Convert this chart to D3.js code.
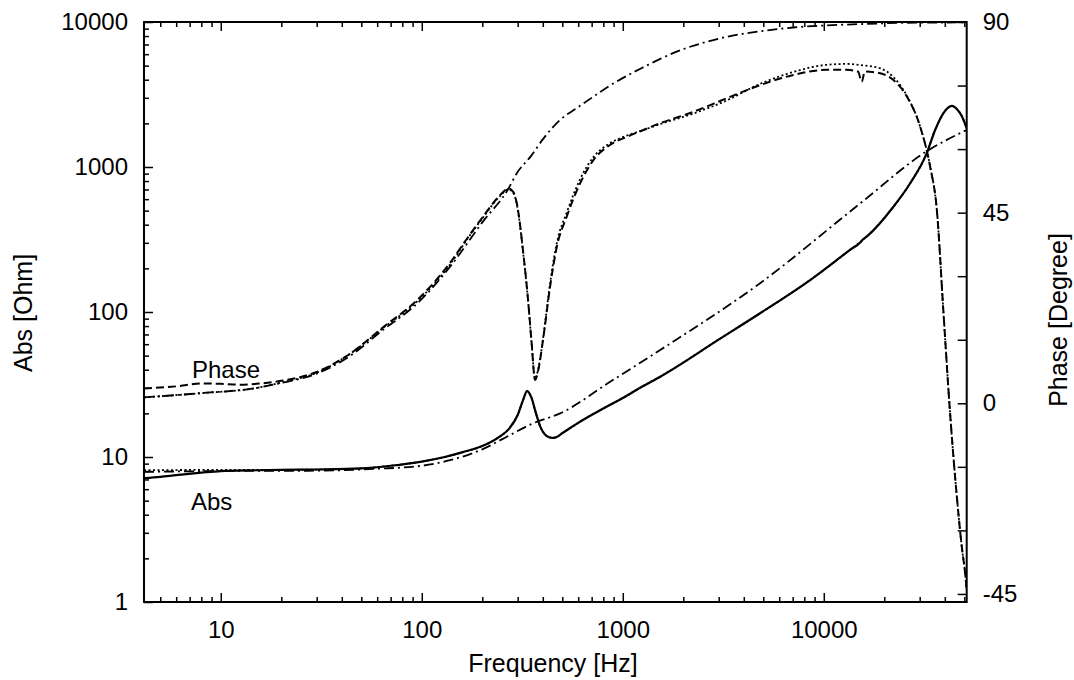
<!DOCTYPE html>
<html>
  <head>
    <meta charset="utf-8">
    <script src="https://d3js.org/d3.v7.min.js"></script>
    <style>
      body { margin: 0; background: #fff; }
      text { font-family: "Liberation Sans", Arial, Helvetica, sans-serif; }
    </style>
  </head>
  <body>
    <svg id="chart" width="1074" height="680"></svg>
    <script>
      // [frequency Hz, |Z| Ohm]
      const absMeasured = [[4.15,7.15],[5,7.3],[6,7.5],[8,7.8],[10,8.0],[15,8.1],[20,8.15],[30,8.2],[50,8.35],[70,8.7],[100,9.3],[130,10.0],[160,10.8],[200,11.9],[240,13.6],[270,15.5],[300,19.5],[320,25],[334,28.5],[350,26],[370,20],[390,16],[410,14.3],[430,13.7],[450,13.55],[470,13.75],[500,14.6],[550,15.9],[600,17.2],[800,21.6],[1000,25.5],[1250,30.6],[1535,35.8],[3050,65.5],[4820,98],[8550,166],[13500,268],[15300,305],[15560,314],[16500,335],[22200,532],[26900,773],[32500,1242],[35800,1800],[39400,2356],[43400,2636],[46000,2500],[48700,2233],[51400,1850]];
      const absModel = [[4.15,8.1],[10,8.15],[20,8.15],[30,8.2],[50,8.35],[70,8.7],[100,9.3],[130,10.0],[160,10.8],[200,11.9],[240,13.6],[270,15.5],[300,19.5],[320,25],[334,28.5],[350,26],[370,20],[390,16],[410,14.3],[430,13.7],[450,13.55],[470,13.75],[500,14.6],[550,15.9],[600,17.2],[800,21.6],[1000,25.5],[1250,30.6],[1535,35.8],[3050,65.5],[4820,98],[8550,166],[13500,268],[16500,335],[22200,532],[26900,773],[32500,1242],[35800,1800],[39400,2356],[43400,2636],[46000,2500],[48700,2233],[51400,1850]];
      const absSimple = [[4.15,7.9],[10,8.0],[30,8.05],[60,8.3],[100,8.7],[138,9.5],[200,11.3],[270,14],[359,17.1],[488,20],[865,33],[1535,54.7],[4820,158],[15200,562],[32500,1283],[51400,1800]];

      // [frequency Hz, phase degree]
      const phaseMeasured = [[4.15,3.5],[6,4.0],[8.2,4.7],[10,4.6],[12.5,4.4],[15,4.6],[20,5.3],[30,7.4],[44,11.7],[64,17.9],[95,24.4],[138,33.1],[168,38.9],[202,44.1],[245,49.1],[270,50.7],[285,49.9],[297,47.2],[320,35.4],[339,23.6],[352,14.2],[366,5.5],[380,7.9],[403,15.7],[435,27.6],[470,37.0],[526,44.05],[613,51.9],[714,57.4],[865,61.0],[1047,62.9],[1266,64.5],[1533,66.1],[2245,68.8],[3291,72.0],[4822,75.1],[7060,77.5],[10350,78.7],[13010,78.7],[14800,78.3],[15450,75.9],[16000,78.3],[19050,77.9],[22200,76.3],[25900,72.4],[30150,65.3],[33800,55.9],[36500,45.7],[39400,21.3],[42500,-2.4],[45900,-22.0],[48600,-33.9],[50500,-40.2],[51400,-44.1]];
      const phaseModel = [[4.15,1.4],[8,2.4],[15,3.6],[20,4.9],[30,7.2],[44,11.7],[64,17.7],[95,24.1],[138,32.7],[168,38.7],[202,43.9],[245,48.9],[270,50.5],[285,49.7],[297,47.0],[320,35.2],[339,23.5],[352,14.1],[366,5.8],[380,8.2],[403,16.0],[435,28.4],[470,37.9],[526,45.0],[613,52.9],[714,58.1],[865,61.4],[1047,63.2],[1266,64.5],[1533,65.9],[2245,68.4],[3291,71.5],[4822,75.4],[7060,78.2],[10350,79.9],[13010,80.1],[16000,79.7],[19050,79.1],[22200,77.0],[25900,72.6],[30150,65.3],[33800,55.9],[36500,45.7],[39400,21.3],[42500,-2.4],[45900,-22.0],[48600,-33.9],[50500,-40.2],[51400,-44.1]];
      const phaseSimple = [[4.15,1.4],[8,2.4],[15,3.6],[20,4.8],[30,7.0],[44,11.2],[64,17.3],[95,23.6],[138,32.2],[200,42.7],[270,50.7],[297,54.3],[350,58.4],[400,62.3],[488,66.9],[600,69.9],[715,72.4],[850,74.8],[1047,77.3],[1300,79.6],[1535,81.3],[2000,83.6],[2600,85.3],[3290,86.5],[4820,87.8],[7060,88.7],[10350,89.2],[15000,89.5],[25000,89.8],[51400,89.9]];

      const xMajor = [10, 100, 1000, 10000];
      const absMajor = [1, 10, 100, 1000, 10000];
      const phaseMajor = [-45, 0, 45, 90];
      const phaseMinor = [-30, -15, 15, 30, 60, 75];

      const svg = d3.select("#chart");
      const pLeft = 144, pRight = 966.7, pTop = 22, pBottom = 602;

      const x = d3.scaleLog().domain([4.15, 51400]).range([pLeft, pRight]);
      const yAbs = d3.scaleLog().domain([1, 10000]).range([pBottom, pTop]);
      const yPh = d3.scaleLinear().domain([-46.9, 90]).range([pBottom, pTop]);

      // minor ticks of the log axes
      const xMinor = [];
      [1, 10, 100, 1000, 10000].forEach(d => {
        for (let k = 2; k < 10; k++) {
          const v = d * k;
          if (v >= 4.15 && v <= 51400) xMinor.push(v);
        }
      });
      const absMinor = [];
      [1, 10, 100, 1000].forEach(d => {
        for (let k = 2; k < 10; k++) absMinor.push(d * k);
      });

      const fmt = d => String(d);

      function style(g) {
        g.select(".domain").remove();
        g.selectAll("line").attr("stroke", "#000").attr("stroke-width", 1.5);
        g.selectAll("text").attr("font-size", 24).attr("fill", "#000")
          .attr("font-family", '"Liberation Sans", Arial, sans-serif');
      }

      // bottom
      svg.append("g").attr("transform", `translate(0,${pBottom})`)
        .call(d3.axisBottom(x).tickValues(xMajor).tickSize(-9).tickPadding(19).tickFormat(fmt))
        .call(style);
      svg.append("g").attr("transform", `translate(0,${pBottom})`)
        .call(d3.axisBottom(x).tickValues(xMinor).tickSize(-5).tickFormat(""))
        .call(style);
      // top mirror
      svg.append("g").attr("transform", `translate(0,${pTop})`)
        .call(d3.axisTop(x).tickValues(xMajor).tickSize(-9).tickFormat(""))
        .call(style);
      svg.append("g").attr("transform", `translate(0,${pTop})`)
        .call(d3.axisTop(x).tickValues(xMinor).tickSize(-5).tickFormat(""))
        .call(style);
      // left
      svg.append("g").attr("transform", `translate(${pLeft},0)`)
        .call(d3.axisLeft(yAbs).tickValues(absMajor).tickSize(-9).tickPadding(16).tickFormat(fmt))
        .call(style);
      svg.append("g").attr("transform", `translate(${pLeft},0)`)
        .call(d3.axisLeft(yAbs).tickValues(absMinor).tickSize(-5).tickFormat(""))
        .call(style);
      // right
      svg.append("g").attr("transform", `translate(${pRight},0)`)
        .call(d3.axisRight(yPh).tickValues(phaseMajor).tickSize(-9).tickPadding(16).tickFormat(fmt))
        .call(style);
      svg.append("g").attr("transform", `translate(${pRight},0)`)
        .call(d3.axisRight(yPh).tickValues(phaseMinor).tickSize(-9).tickFormat(""))
        .call(style);

      svg.append("rect")
        .attr("x", pLeft).attr("y", pTop)
        .attr("width", pRight - pLeft).attr("height", pBottom - pTop)
        .attr("fill", "none").attr("stroke", "#000").attr("stroke-width", 2);

      svg.append("clipPath").attr("id", "clip")
        .append("rect").attr("x", pLeft).attr("y", pTop)
        .attr("width", pRight - pLeft).attr("height", pBottom - pTop);

      const plot = svg.append("g").attr("clip-path", "url(#clip)");
      const absLine = d3.line().x(d => x(d[0])).y(d => yAbs(d[1])).curve(d3.curveMonotoneX);
      const phLine = d3.line().x(d => x(d[0])).y(d => yPh(d[1])).curve(d3.curveMonotoneX);

      const series = [
        {data: absSimple, line: absLine, dash: "10,4,2,4", w: 1.8},
        {data: absModel, line: absLine, dash: "2,2.5", w: 1.8},
        {data: absMeasured, line: absLine, dash: null, w: 2.2},
        {data: phaseSimple, line: phLine, dash: "10,4,2,4", w: 1.8},
        {data: phaseModel, line: phLine, dash: "2,2.5", w: 1.8},
        {data: phaseMeasured, line: phLine, dash: "8,4", w: 2}
      ];
      series.forEach(s => {
        plot.append("path")
          .attr("d", s.line(s.data))
          .attr("fill", "none")
          .attr("stroke", "#000")
          .attr("stroke-width", s.w)
          .attr("stroke-dasharray", s.dash);
      });

      svg.append("text").attr("x", 192).attr("y", 378).attr("font-size", 24).text("Phase");
      svg.append("text").attr("x", 191).attr("y", 510).attr("font-size", 24).text("Abs");

      svg.append("text")
        .attr("x", 553).attr("y", 672)
        .attr("text-anchor", "middle").attr("font-size", 25)
        .text("Frequency [Hz]");
      svg.append("text")
        .attr("transform", "translate(32,372) rotate(-90)")
        .attr("font-size", 25)
        .text("Abs [Ohm]");
      svg.append("text")
        .attr("transform", "translate(1067,320) rotate(-90)")
        .attr("text-anchor", "middle").attr("font-size", 25)
        .text("Phase [Degree]");
    </script>
  </body>
</html>
